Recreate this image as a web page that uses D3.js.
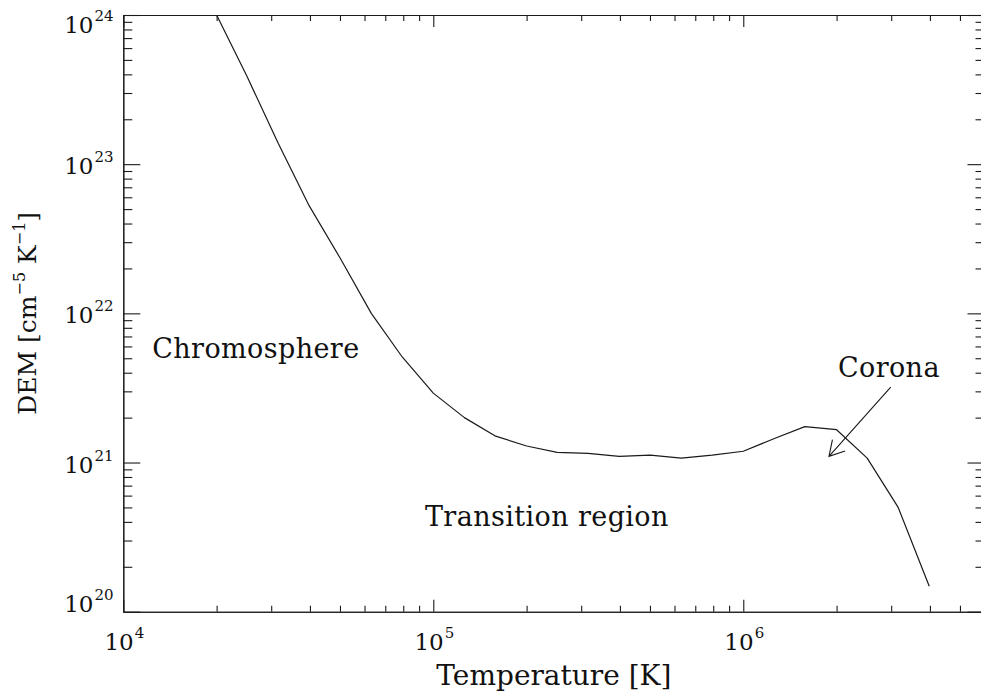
<!DOCTYPE html>
<html>
<head>
<meta charset="utf-8">
<script src="https://cdn.jsdelivr.net/npm/d3@7"></script>
<style>
  html, body { margin: 0; padding: 0; background: #fff; }
  svg { display: block; }
  text { font-family: "DejaVu Serif", "Liberation Serif", serif; fill: #111; }
</style>
</head>
<body>
<svg id="chart" width="981" height="693"></svg>
<script>
// Differential emission measure versus temperature
const temperature = [2.00e4, 2.51e4, 3.16e4, 3.98e4, 5.01e4, 6.31e4, 7.94e4,
                     1.00e5, 1.26e5, 1.58e5, 2.00e5, 2.51e5, 3.16e5, 3.98e5, 5.01e5, 6.31e5, 7.94e5,
                     1.00e6, 1.26e6, 1.58e6, 2.00e6, 2.51e6, 3.16e6, 3.98e6];
const dem = [1.00e24, 3.85e23, 1.38e23, 5.25e22, 2.34e22, 1.00e22, 5.10e21,
             2.92e21, 2.00e21, 1.51e21, 1.29e21, 1.17e21, 1.15e21, 1.10e21, 1.12e21, 1.07e21, 1.12e21,
             1.19e21, 1.45e21, 1.74e21, 1.66e21, 1.07e21, 5.00e20, 1.48e20];

// Axis ranges and labelled decades
const xDomain = [1e4, 6e6];
const yDomain = [1e20, 1e24];
const xMajor = [1e4, 1e5, 1e6];
const xMajorExp = ["4", "5", "6"];
const yMajor = [1e20, 1e21, 1e22, 1e23, 1e24];
const yMajorExp = ["20", "21", "22", "23", "24"];

// Text annotations placed in data coordinates
const notes = [
  { text: "Chromosphere", t: 1.24e4, d: 5.0e21 },
  { text: "Transition region", t: 9.4e4, d: 3.76e20 },
  { text: "Corona", t: 2.02e6, d: 3.73e21 }
];
// Arrow from the "Corona" label to the coronal peak
const arrowFrom = { t: 2.99e6, d: 3.2e21 };
const arrowTo = { t: 1.89e6, d: 1.10e21 };

(function draw() {
  const svg = d3.select("#chart");
  const pLeft = 123.3, pRight = 984.5, pTop = 15, pBottom = 611.7;

  const x = d3.scaleLog().domain(xDomain).range([pLeft, pRight]);
  const y = d3.scaleLog().domain(yDomain).range([pBottom, pTop]);

  const ink = "#1a1a1a";
  const xMinor = x.ticks().filter(v => !xMajor.includes(v));
  const yMinor = y.ticks().filter(v => !yMajor.includes(v));

  function styleAxis(g) {
    g.select(".domain").attr("stroke", ink).attr("stroke-width", 1.1);
    g.selectAll(".tick line").attr("stroke", ink).attr("stroke-width", 1.1);
    g.selectAll(".tick text").remove();
  }

  // Bottom and top axes: major ticks 12px, minor 6px, pointing inward
  [[d3.axisBottom, pBottom], [d3.axisTop, pTop]].forEach(([mk, pos]) => {
    svg.append("g").attr("transform", `translate(0,${pos})`)
      .call(mk(x).tickValues(xMajor).tickSize(-12).tickSizeOuter(0)).call(styleAxis);
    svg.append("g").attr("transform", `translate(0,${pos})`)
      .call(mk(x).tickValues(xMinor).tickSize(-6).tickSizeOuter(0)).call(styleAxis);
  });

  // Left and right axes: major ticks 17px, minor 9px, pointing inward
  [[d3.axisLeft, pLeft], [d3.axisRight, pRight]].forEach(([mk, pos]) => {
    svg.append("g").attr("transform", `translate(${pos},0)`)
      .call(mk(y).tickValues(yMajor).tickSize(-17).tickSizeOuter(0)).call(styleAxis);
    svg.append("g").attr("transform", `translate(${pos},0)`)
      .call(mk(y).tickValues(yMinor).tickSize(-9).tickSizeOuter(0)).call(styleAxis);
  });

  // Power-of-ten tick labels with superscript exponents
  function powerLabel(sel, exp) {
    sel.append("tspan").attr("font-size", 23).text("10");
    sel.append("tspan").attr("font-size", 15).attr("dy", -12).attr("dx", 1).text(exp);
  }

  xMajor.forEach((v, i) => {
    const t = svg.append("text").attr("x", x(v) + 1).attr("y", 650)
      .attr("text-anchor", "middle");
    powerLabel(t, xMajorExp[i]);
  });

  yMajor.forEach((v, i) => {
    const base = Math.min(Math.max(y(v) + 10, pTop + 18.3), pBottom);
    const t = svg.append("text").attr("x", 113.5).attr("y", base)
      .attr("text-anchor", "end");
    powerLabel(t, yMajorExp[i]);
  });

  // Axis titles
  svg.append("text").attr("x", (pLeft + pRight) / 2).attr("y", 685)
    .attr("text-anchor", "middle").attr("font-size", 28).text("Temperature [K]");

  const yt = svg.append("text")
    .attr("transform", `translate(36,${(pTop + pBottom) / 2}) rotate(-90)`)
    .attr("text-anchor", "middle").attr("font-size", 25);
  yt.append("tspan").text("DEM [cm");
  yt.append("tspan").attr("font-size", 16).attr("dy", -11).text("\u22125");
  yt.append("tspan").attr("dy", 11).text(" K");
  yt.append("tspan").attr("font-size", 16).attr("dy", -11).text("\u22121");
  yt.append("tspan").attr("dy", 11).text("]");

  // DEM curve
  const pts = temperature.map((t, i) => [t, dem[i]]);
  svg.append("path")
    .datum(pts)
    .attr("fill", "none")
    .attr("stroke", ink)
    .attr("stroke-width", 1.2)
    .attr("stroke-linejoin", "round")
    .attr("d", d3.line().x(d => x(d[0])).y(d => y(d[1])));

  // Annotations
  notes.forEach(n => {
    svg.append("text").attr("x", x(n.t)).attr("y", y(n.d))
      .attr("font-size", 27).attr("letter-spacing", 0.4).text(n.text);
  });

  // Arrow with open head
  const ax0 = x(arrowFrom.t), ay0 = y(arrowFrom.d);
  const ax1 = x(arrowTo.t), ay1 = y(arrowTo.d);
  const ang = Math.atan2(ay0 - ay1, ax0 - ax1);
  const headLen = 17, headAng = Math.PI / 6;
  const h1 = [ax1 + headLen * Math.cos(ang - headAng), ay1 + headLen * Math.sin(ang - headAng)];
  const h2 = [ax1 + headLen * Math.cos(ang + headAng), ay1 + headLen * Math.sin(ang + headAng)];
  svg.append("path")
    .attr("fill", "none").attr("stroke", ink).attr("stroke-width", 1.1)
    .attr("d", `M${ax0},${ay0}L${ax1},${ay1}M${h1[0]},${h1[1]}L${ax1},${ay1}L${h2[0]},${h2[1]}`);
})();
</script>
</body>
</html>
